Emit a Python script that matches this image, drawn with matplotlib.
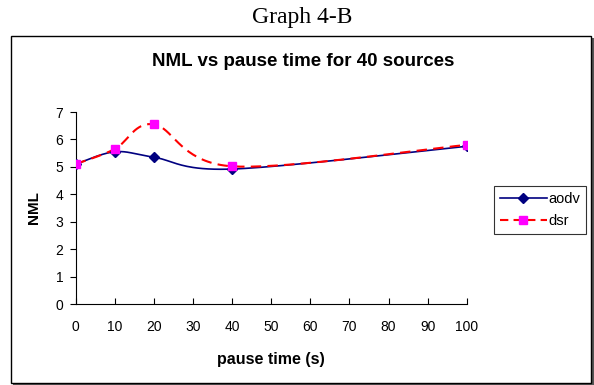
import matplotlib
matplotlib.use('Agg')
import matplotlib.pyplot as plt
import numpy as np
from matplotlib.patches import Rectangle
from matplotlib.lines import Line2D

pause = [0, 10, 20, 40, 100]
aodv = [5.1, 5.55, 5.35, 4.92, 5.75]
dsr = [5.1, 5.65, 6.55, 5.02, 5.8]
xticks = list(range(0, 101, 10))
yticks = list(range(0, 8))

plt.rcParams['font.family'] = ['Liberation Sans', 'DejaVu Sans']


def smooth(xs, ys, n=40):
  # bezier curve through points, like the spreadsheet "smoothed line"
  p = np.column_stack([xs, ys]).astype(float)
  pts = np.vstack([p[0], p, p[-1]])
  out = []
  for i in range(1, len(pts) - 2):
    p0, p1, p2, p3 = pts[i - 1], pts[i], pts[i + 1], pts[i + 2]
    c1 = p1 + (p2 - p0) / 6.
    c2 = p2 - (p3 - p1) / 6.
    t = np.linspace(0, 1, n)[:, None]
    seg = (1 - t)**3 * p1 + 3 * (1 - t)**2 * t * c1 + 3 * (1 - t) * t**2 * c2 + t**3 * p2
    out.append(seg if i == 1 else seg[1:])
  s = np.vstack(out)
  return s[:, 0], s[:, 1]


fig = plt.figure(figsize=(5.94, 3.85), dpi=100)
W, H = 594., 385.

# outer frame with small shadow
fig.patches.append(Rectangle((13 / W, 1 - 385 / H), 581 / W, 347 / H, transform=fig.transFigure,
                             facecolor='#555555', edgecolor='none', zorder=0))
fig.patches.append(Rectangle((11 / W, 1 - 383 / H), 580 / W, 347 / H, transform=fig.transFigure,
                             facecolor='white', edgecolor='black', linewidth=1.0, zorder=1))

fig.text(302 / W, 1 - 23 / H, 'Graph 4-B', ha='center', va='baseline', fontsize=17,
         family=['Liberation Serif', 'DejaVu Serif'])
fig.text(303 / W, 1 - 61 / H, 'NML vs pause time for 40 sources', ha='center', va='center',
         fontsize=13.5, fontweight='bold')

ax = fig.add_axes([75.7 / W, 1 - 304 / H, (466.7 - 75.7) / W, (304 - 112) / H])
ax.set_zorder(2)
ax.patch.set_alpha(0)

sx, sy = smooth(pause, aodv)
ax.plot(sx, sy, color='#000080', linewidth=1.2, zorder=3)
ax.plot(pause, aodv, linestyle='none', marker='D', markersize=5, color='#000080', zorder=4)

sx, sy = smooth(pause, dsr)
ax.plot(sx, sy, color='#ff0000', linewidth=1.5, dashes=(5, 3), zorder=3)
ax.plot(pause, dsr, linestyle='none', marker='s', markersize=6, color='#ff00ff', zorder=5)

ax.set_xlim(0, 100)
ax.set_ylim(0, 7)
ax.set_xticks(xticks)
ax.set_yticks(yticks)
ax.spines['top'].set_visible(False)
ax.spines['right'].set_visible(False)
for s in ['left', 'bottom']:
  ax.spines[s].set_linewidth(0.8)
  ax.spines[s].set_color('black')
ax.tick_params(axis='x', direction='in', length=4, width=0.8, labelsize=10, pad=11.5)
ax.tick_params(axis='y', direction='out', length=4, width=0.8, labelsize=10, pad=5)

ax.set_xlabel('pause time (s)', fontsize=11.5, fontweight='bold', labelpad=13)
ax.set_ylabel('NML', fontsize=11, fontweight='bold', labelpad=10)

handles = [
  Line2D([], [], color='#000080', linewidth=1.2, marker='D', markersize=5),
  Line2D([], [], color='#ff0000', linewidth=1.5, dashes=(4, 2.5), marker='s', markersize=6,
         markerfacecolor='#ff00ff', markeredgecolor='#ff00ff'),
]
leg = fig.legend(handles, ['aodv', 'dsr'], loc='center left', bbox_to_anchor=(494 / W, 1 - 210 / H),
                 fontsize=10.5, frameon=True, fancybox=False, edgecolor='black', handlelength=3.2,
                 handletextpad=0.15, borderpad=0.4, labelspacing=0.55, borderaxespad=0)
leg.get_frame().set_linewidth(0.8)
leg.set_zorder(6)

fig.savefig('out.png', dpi=100)
